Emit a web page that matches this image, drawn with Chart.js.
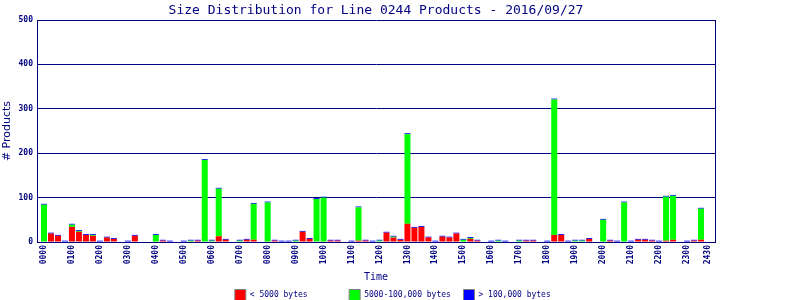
<!DOCTYPE html>
<html>
<head>
<meta charset="utf-8">
<title>Size Distribution for Line 0244 Products</title>
<script src="https://cdn.jsdelivr.net/npm/chart.js@4/dist/chart.umd.min.js"></script>
<style>
  html, body { margin: 0; padding: 0; background: #ffffff; }
</style>
</head>
<body>
<canvas id="chart" width="800" height="300"></canvas>
<script>
// 15-minute bins, 0000 .. 2345
const tickBins = [0, 4, 8, 12, 16, 20, 24, 28, 32, 36, 40, 44, 48, 52, 56, 60, 64, 68, 72, 76, 80, 84, 88, 92, 95];
const tickLabels = ['0000', '0100', '0200', '0300', '0400', '0500', '0600', '0700', '0800', '0900', '1000', '1100',
  '1200', '1300', '1400', '1500', '1600', '1700', '1800', '1900', '2000', '2100', '2200', '2300', '2430'];

const seriesNames = ['< 5000 bytes', '5000-100,000 bytes', '> 100,000 bytes'];

const small = [0, 19, 14, 0, 34, 23, 16, 14, 0, 10, 7, 0, 0, 14, 0, 0,
  0, 3, 0, 0, 0, 0, 3, 0, 0, 13, 5, 0, 0, 5, 5, 0,
  0, 3, 0, 0, 0, 23, 7, 0, 0, 3, 3, 0, 0, 3, 3, 0,
  0, 21, 10, 5, 41, 32, 34, 10, 0, 12, 10, 19, 0, 7, 3, 0,
  0, 0, 0, 0, 0, 3, 3, 0, 0, 16, 16, 0, 0, 0, 7, 0,
  0, 3, 0, 0, 0, 5, 5, 3, 0, 3, 5, 0, 0, 3, 5, 0];

const medium = [84, 0, 0, 0, 5, 2, 0, 2, 0, 0, 0, 0, 0, 0, 0, 0,
  16, 0, 0, 0, 0, 3, 0, 185, 3, 107, 0, 0, 3, 0, 81, 0,
  89, 0, 0, 0, 3, 0, 0, 97, 100, 0, 0, 0, 0, 75, 0, 0,
  3, 0, 2, 0, 202, 0, 0, 0, 0, 0, 0, 0, 5, 2, 0, 0,
  0, 3, 0, 0, 3, 0, 0, 0, 0, 305, 0, 0, 3, 3, 0, 0,
  50, 0, 0, 89, 0, 0, 0, 0, 0, 99, 99, 0, 0, 0, 70, 0];

const large = [2, 2, 2, 3, 2, 2, 2, 2, 3, 2, 2, 0, 3, 2, 0, 0,
  2, 2, 3, 0, 3, 2, 2, 2, 2, 2, 2, 0, 2, 2, 2, 0,
  2, 2, 3, 3, 2, 2, 2, 2, 2, 2, 2, 0, 3, 2, 2, 3,
  2, 2, 2, 2, 2, 2, 2, 2, 3, 2, 2, 2, 2, 2, 2, 0,
  3, 2, 3, 0, 2, 2, 2, 0, 3, 2, 2, 3, 2, 2, 2, 0,
  2, 2, 3, 2, 3, 2, 2, 2, 3, 2, 2, 0, 3, 2, 2, 0];

const NAVY = '#000080';
const MONO = 'DejaVu Sans Mono';
const legendPad = [20, 20, 18];

function points(values) {
  return values.map((v, i) => ({ x: i, y: v }));
}

new Chart(document.getElementById('chart'), {
  type: 'bar',
  data: {
    datasets: [
      { label: seriesNames[0], data: points(small), backgroundColor: '#ff0000' },
      { label: seriesNames[1], data: points(medium), backgroundColor: '#00ff00' },
      { label: seriesNames[2], data: points(large), backgroundColor: '#0000ff' }
    ]
  },
  options: {
    responsive: false,
    animation: false,
    barPercentage: 0.86,
    categoryPercentage: 1,
    layout: { padding: 0 },
    scales: {
      x: {
        type: 'linear',
        stacked: true,
        offset: false,
        min: -1,
        max: 96,
        afterBuildTicks: s => { s.ticks = tickBins.map(v => ({ value: v })); },
        afterFit: s => { s.height = 44.5; },
        grid: { display: false, drawTicks: false },
        border: { color: NAVY, width: 1 },
        ticks: {
          autoSkip: false,
          minRotation: 90,
          maxRotation: 90,
          padding: 3,
          color: NAVY,
          font: { family: MONO, size: 8, weight: 'bold' },
          callback: (v, i) => tickLabels[i]
        },
        title: {
          display: true,
          text: 'Time',
          color: NAVY,
          font: { family: MONO, size: 10 },
          padding: { top: 0, bottom: 3.5 }
        }
      },
      y: {
        stacked: true,
        min: 0,
        max: 500,
        afterFit: s => { s.width = 37; },
        grid: { color: NAVY, lineWidth: 1, drawTicks: false },
        border: { color: NAVY, width: 1 },
        ticks: {
          stepSize: 100,
          padding: 4,
          color: NAVY,
          font: { family: MONO, size: 8, weight: 'bold' }
        },
        title: {
          display: true,
          text: '# Products',
          color: NAVY,
          font: { family: 'DejaVu Sans', size: 11 },
          padding: { top: 1, bottom: 0 }
        }
      },
      // empty right axis: only its line, closing the frame
      yRight: {
        position: 'right',
        min: 0,
        max: 500,
        afterFit: s => { s.width = 85; },
        grid: { display: false, drawTicks: false },
        border: { display: true, color: NAVY, width: 1 },
        ticks: { display: false }
      }
    },
    plugins: {
      title: {
        display: true,
        fullSize: false,
        text: 'Size Distribution for Line 0244 Products - 2016/09/27',
        color: NAVY,
        font: { family: MONO, size: 13, weight: 'normal' },
        padding: { top: 3, bottom: 1.4 }
      },
      legend: {
        position: 'bottom',
        maxHeight: 13.5,
        labels: {
          boxWidth: 11,
          boxHeight: 11,
          padding: 3,
          color: NAVY,
          font: { family: MONO, size: 8 },
          generateLabels: chart => chart.data.datasets.map((ds, i) => ({
            text: seriesNames[i].padEnd(legendPad[i]),
            fillStyle: ds.backgroundColor,
            strokeStyle: '#808080',
            lineWidth: 1,
            fontColor: NAVY,
            hidden: false,
            datasetIndex: i
          }))
        }
      },
      tooltip: { enabled: false }
    }
  }
});
</script>
</body>
</html>
